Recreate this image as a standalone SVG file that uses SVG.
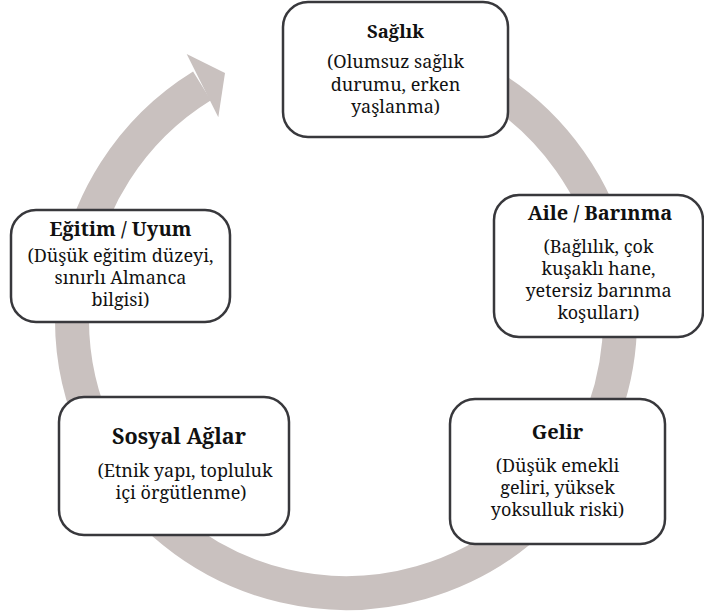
<svg xmlns="http://www.w3.org/2000/svg" width="704" height="613" viewBox="0 0 704 613">
<style>
.box{fill:#ffffff;stroke:#38383c;stroke-width:2.5}
.t{font-family:'Noto Serif','DejaVu Serif',serif;font-size:18px;fill:#111111;text-anchor:middle}
.b{font-weight:bold;font-size:20px}
.ring{fill:none;stroke:#c9c1bf;stroke-width:34}
</style>
<g id="connectors">
<path class="ring" d="M 346 45 A 274 274 0 1 1 202 85.9"/>
<polygon fill="#c9c1bf" points="186.7,54 225,73 218.3,117.3"/>
</g>
<g id="saglik">
<rect class="box" x="283" y="2" width="225" height="135" rx="25"/>
<text class="t b" x="395.5" y="38" style="font-size:18.5px">Sağlık</text>
<text class="t" x="395.5" y="68">(Olumsuz sağlık</text>
<text class="t" x="395.5" y="91">durumu, erken</text>
<text class="t" x="395.5" y="113">yaşlanma)</text>
</g>
<g id="aile">
<rect class="box" x="494" y="195" width="209" height="142" rx="25"/>
<text class="t b" x="600" y="220">Aile / Barınma</text>
<text class="t" x="598.5" y="253">(Bağlılık, çok</text>
<text class="t" x="598.5" y="275">kuşaklı hane,</text>
<text class="t" x="598.5" y="297">yetersiz barınma</text>
<text class="t" x="598.5" y="319">koşulları)</text>
</g>
<g id="gelir">
<rect class="box" x="450" y="399" width="215" height="145" rx="25"/>
<text class="t b" x="557.5" y="439">Gelir</text>
<text class="t" x="557.5" y="472">(Düşük emekli</text>
<text class="t" x="557.5" y="494">geliri, yüksek</text>
<text class="t" x="557.5" y="516">yoksulluk riski)</text>
</g>
<g id="sosyal">
<rect class="box" x="59" y="397" width="230" height="138" rx="25"/>
<text class="t b" x="179" y="444" style="font-size:21.5px">Sosyal Ağlar</text>
<text class="t" x="185" y="477">(Etnik yapı, topluluk</text>
<text class="t" x="181" y="499">içi örgütlenme)</text>
</g>
<g id="egitim">
<rect class="box" x="11" y="210" width="219" height="112" rx="25"/>
<text class="t b" x="120.5" y="236">Eğitim / Uyum</text>
<text class="t" x="120.5" y="262">(Düşük eğitim düzeyi,</text>
<text class="t" x="120.5" y="284">sınırlı Almanca</text>
<text class="t" x="120.5" y="306">bilgisi)</text>
</g>
</svg>
